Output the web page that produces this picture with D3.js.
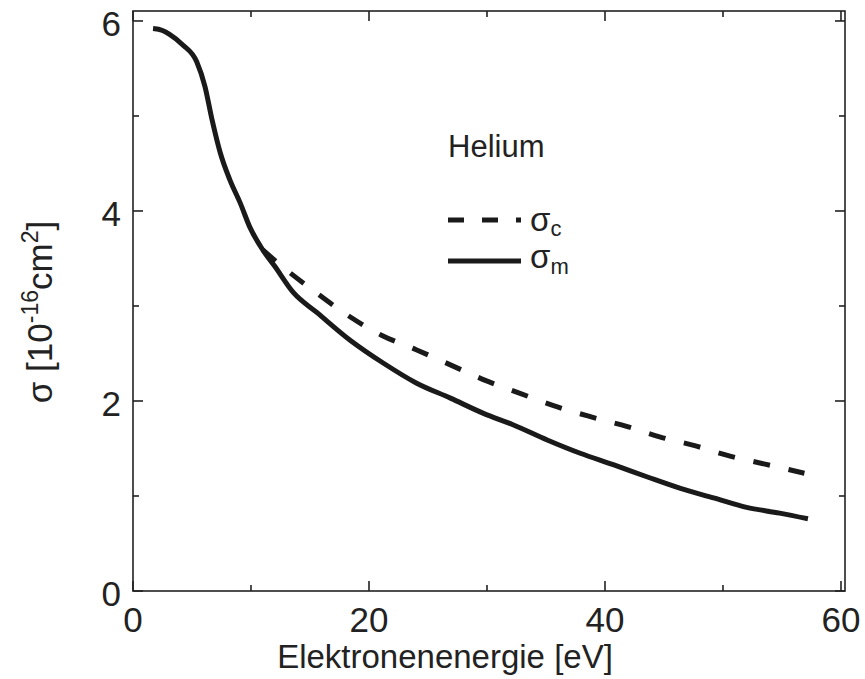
<!DOCTYPE html>
<html>
<head>
<meta charset="utf-8">
<script src="https://cdn.jsdelivr.net/npm/d3@7"></script>
<style>
  html, body { margin: 0; padding: 0; background: #fff; }
  svg text { font-family: 'Liberation Sans', Arial, sans-serif; fill: #222; }
</style>
</head>
<body>
<div id="chart"></div>
<script>
// sigma_m (momentum transfer) - solid
const energyM = [1.7, 2.5, 3.1, 4.2, 5.4, 6.1, 6.7, 7.4, 8.2, 9.1, 9.9, 11.0, 12.0, 13.6, 15.6, 18.4, 21.2, 24.0, 26.9, 29.7, 32.2, 35.1, 37.9, 40.7, 43.6, 46.4, 49.2, 52.0, 54.8, 57.2]
const sigmaM = [5.92, 5.90, 5.86, 5.75, 5.57, 5.31, 4.96, 4.61, 4.33, 4.08, 3.83, 3.59, 3.42, 3.14, 2.93, 2.64, 2.40, 2.19, 2.03, 1.87, 1.75, 1.59, 1.45, 1.33, 1.20, 1.08, 0.98, 0.88, 0.82, 0.76]

// sigma_c (total) - dashed
const energyC = [11.0, 12.5, 15.2, 18.1, 21.1, 24.0, 26.9, 29.8, 32.8, 35.9, 38.9, 41.9, 44.7, 47.6, 50.6, 53.4, 56.9]
const sigmaC = [3.59, 3.43, 3.17, 2.91, 2.69, 2.54, 2.38, 2.22, 2.08, 1.94, 1.83, 1.73, 1.62, 1.53, 1.42, 1.34, 1.24]

const xMajor = [0, 20, 40, 60]
const xMinor = [10, 30, 50]
const yMajor = [0, 2, 4, 6]
const yMinor = [1, 3, 5]

const W = 865, H = 679
const m = { left: 133, right: W - 845, top: 11, bottom: H - 591 }

const svg = d3.select('#chart').append('svg')
  .attr('width', W).attr('height', H)

const x = d3.scaleLinear().domain([0, 60.34]).range([m.left, W - m.right])
const y = d3.scaleLinear().domain([0, 6.105]).range([H - m.bottom, m.top])

const ink = '#1a1a1a'

// frame
svg.append('rect')
  .attr('x', x(0)).attr('y', y(6.105))
  .attr('width', x(60.34) - x(0)).attr('height', y(0) - y(6.105))
  .attr('fill', 'none').attr('stroke', '#222').attr('stroke-width', 1.6)

// inward ticks on all four sides
const ticks = svg.append('g').attr('stroke', '#222').attr('stroke-width', 1.6)
const addX = (vals, len) => vals.forEach(v => {
  ticks.append('line').attr('x1', x(v)).attr('x2', x(v)).attr('y1', y(0)).attr('y2', y(0) - len)
  ticks.append('line').attr('x1', x(v)).attr('x2', x(v)).attr('y1', y(6.105)).attr('y2', y(6.105) + len)
})
const addY = (vals, len) => vals.forEach(v => {
  ticks.append('line').attr('y1', y(v)).attr('y2', y(v)).attr('x1', x(0)).attr('x2', x(0) + len)
  ticks.append('line').attr('y1', y(v)).attr('y2', y(v)).attr('x1', x(60.34)).attr('x2', x(60.34) - len)
})
addX(xMajor, 10); addX(xMinor, 6)
addY(yMajor, 10); addY(yMinor, 6)

// tick labels
svg.append('g').selectAll('text').data(xMajor).join('text')
  .attr('x', d => x(d)).attr('y', y(0) + 41)
  .attr('text-anchor', 'middle')
  .style('font-size', '35px')
  .text(d => d)

svg.append('g').selectAll('text').data(yMajor).join('text')
  .attr('x', x(0) - 12).attr('y', d => y(d) + 15)
  .attr('text-anchor', 'end')
  .style('font-size', '35px')
  .text(d => d)

// axis titles
svg.append('text')
  .attr('x', 445).attr('y', 668)
  .attr('text-anchor', 'middle')
  .style('font-size', '33px')
  .text('Elektronenenergie [eV]')

const yt = svg.append('text')
  .attr('transform', 'translate(52,312) rotate(-90)')
  .attr('text-anchor', 'middle')
  .style('font-size', '35px')
yt.append('tspan').text('σ [10')
yt.append('tspan').attr('dy', -14).style('font-size', '23px').text('-16')
yt.append('tspan').attr('dy', 14).text('cm')
yt.append('tspan').attr('dy', -14).style('font-size', '23px').text('2')
yt.append('tspan').attr('dy', 14).text(']')

// curves
const line = d3.line().x(d => x(d[0])).y(d => y(d[1])).curve(d3.curveMonotoneX)

svg.append('path')
  .datum(d3.zip(energyC, sigmaC))
  .attr('d', line)
  .attr('fill', 'none').attr('stroke', ink).attr('stroke-width', 5)
  .attr('stroke-dasharray', '17,19')

svg.append('path')
  .datum(d3.zip(energyM, sigmaM))
  .attr('d', line)
  .attr('fill', 'none').attr('stroke', ink).attr('stroke-width', 5)

// legend
svg.append('text')
  .attr('x', 448).attr('y', 157)
  .style('font-size', '31px')
  .text('Helium')

svg.append('line')
  .attr('x1', 448).attr('x2', 521).attr('y1', 220).attr('y2', 220)
  .attr('stroke', ink).attr('stroke-width', 5)
  .attr('stroke-dasharray', '16,18')

svg.append('line')
  .attr('x1', 448).attr('x2', 521).attr('y1', 261).attr('y2', 261)
  .attr('stroke', ink).attr('stroke-width', 5)

const l1 = svg.append('text').attr('x', 530).attr('y', 231).style('font-size', '33px')
l1.append('tspan').text('σ')
l1.append('tspan').attr('dy', 5).style('font-size', '22px').text('c')

const l2 = svg.append('text').attr('x', 530).attr('y', 268).style('font-size', '33px')
l2.append('tspan').text('σ')
l2.append('tspan').attr('dy', 6).style('font-size', '22px').text('m')
</script>
</body>
</html>
